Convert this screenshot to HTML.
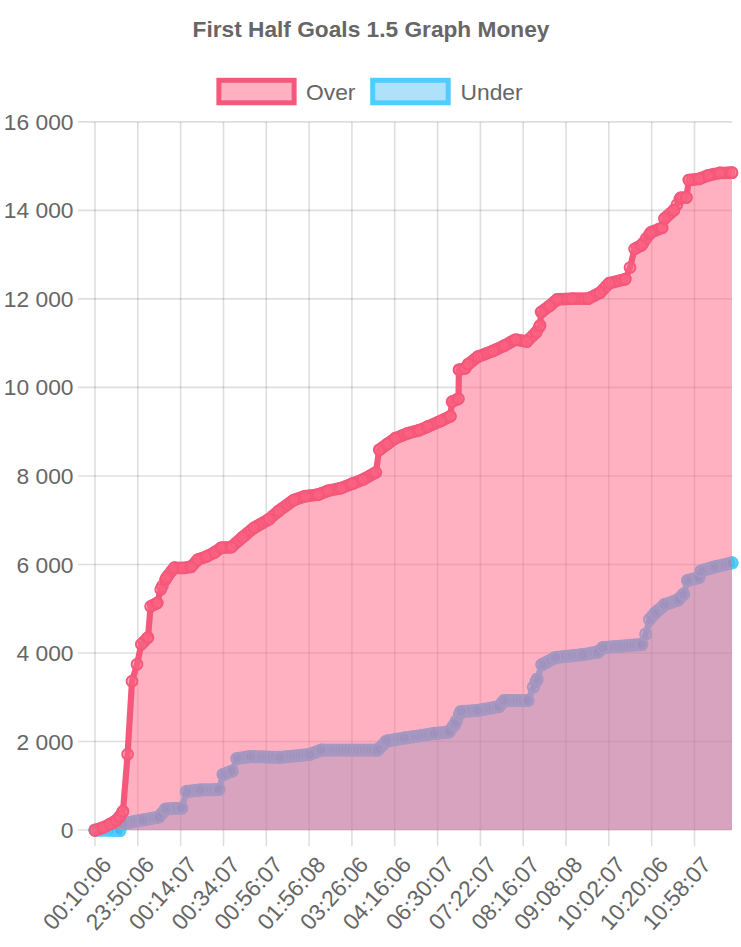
<!DOCTYPE html>
<html><head><meta charset="utf-8"><style>
html,body{margin:0;padding:0;background:#fff;width:741px;height:947px;overflow:hidden}
svg{display:block;font-family:"Liberation Sans",sans-serif}
</style></head><body>
<svg width="741" height="947" viewBox="0 0 741 947">
<g stroke="rgba(0,0,0,0.13)" stroke-width="1.6"><line x1="78" y1="121.9" x2="732.0" y2="121.9"/><line x1="78" y1="210.4" x2="732.0" y2="210.4"/><line x1="78" y1="298.9" x2="732.0" y2="298.9"/><line x1="78" y1="387.4" x2="732.0" y2="387.4"/><line x1="78" y1="476.0" x2="732.0" y2="476.0"/><line x1="78" y1="564.5" x2="732.0" y2="564.5"/><line x1="78" y1="653.0" x2="732.0" y2="653.0"/><line x1="78" y1="741.5" x2="732.0" y2="741.5"/><line x1="78" y1="830.0" x2="732.0" y2="830.0"/><line x1="95.0" y1="121.9" x2="95.0" y2="846"/><line x1="137.8" y1="121.9" x2="137.8" y2="846"/><line x1="180.6" y1="121.9" x2="180.6" y2="846"/><line x1="223.5" y1="121.9" x2="223.5" y2="846"/><line x1="266.3" y1="121.9" x2="266.3" y2="846"/><line x1="309.1" y1="121.9" x2="309.1" y2="846"/><line x1="351.9" y1="121.9" x2="351.9" y2="846"/><line x1="394.7" y1="121.9" x2="394.7" y2="846"/><line x1="437.6" y1="121.9" x2="437.6" y2="846"/><line x1="480.4" y1="121.9" x2="480.4" y2="846"/><line x1="523.2" y1="121.9" x2="523.2" y2="846"/><line x1="566.0" y1="121.9" x2="566.0" y2="846"/><line x1="608.8" y1="121.9" x2="608.8" y2="846"/><line x1="651.7" y1="121.9" x2="651.7" y2="846"/><line x1="694.5" y1="121.9" x2="694.5" y2="846"/></g>
<path d="M95.0,830.0 L120.0,830.5 L123.0,823.5 L142.8,820.0 L158.8,817.0 L165.7,809.0 L181.8,808.0 L186.4,791.5 L200.1,790.0 L219.0,789.5 L223.0,774.5 L232.2,771.0 L236.8,758.5 L250.6,756.5 L279.7,757.4 L309.4,754.5 L321.3,750.0 L377.7,750.0 L386.6,741.0 L404.4,738.0 L434.1,733.5 L448.9,732.0 L454.9,724.0 L460.8,711.5 L477.5,710.5 L499.0,706.5 L504.0,700.5 L528.0,700.5 L533.4,687.0 L537.2,679.0 L541.8,664.7 L555.5,657.5 L583.0,654.5 L598.0,652.0 L603.0,647.5 L641.9,644.5 L645.7,634.0 L649.5,619.5 L655.2,613.0 L664.7,604.5 L678.0,600.0 L683.7,594.0 L687.5,580.5 L699.0,577.5 L700.9,571.0 L714.2,567.0 L732.0,562.8 L732.0,830.0 L95.0,830.0 Z" fill="rgba(55,183,243,0.4)"/><path d="M95.0,830.0 L120.0,830.5 L123.0,823.5 L142.8,820.0 L158.8,817.0 L165.7,809.0 L181.8,808.0 L186.4,791.5 L200.1,790.0 L219.0,789.5 L223.0,774.5 L232.2,771.0 L236.8,758.5 L250.6,756.5 L279.7,757.4 L309.4,754.5 L321.3,750.0 L377.7,750.0 L386.6,741.0 L404.4,738.0 L434.1,733.5 L448.9,732.0 L454.9,724.0 L460.8,711.5 L477.5,710.5 L499.0,706.5 L504.0,700.5 L528.0,700.5 L533.4,687.0 L537.2,679.0 L541.8,664.7 L555.5,657.5 L583.0,654.5 L598.0,652.0 L603.0,647.5 L641.9,644.5 L645.7,634.0 L649.5,619.5 L655.2,613.0 L664.7,604.5 L678.0,600.0 L683.7,594.0 L687.5,580.5 L699.0,577.5 L700.9,571.0 L714.2,567.0 L732.0,562.8" fill="none" stroke="rgb(80,205,255)" stroke-width="6.2" stroke-linejoin="round"/><g fill="rgba(55,183,243,0.4)" stroke="rgb(80,205,255)" stroke-width="1.9"><circle cx="95.0" cy="830.0" r="5.6"/><circle cx="98.1" cy="830.1" r="5.6"/><circle cx="101.1" cy="830.1" r="5.6"/><circle cx="104.2" cy="830.2" r="5.6"/><circle cx="107.2" cy="830.2" r="5.6"/><circle cx="110.3" cy="830.3" r="5.6"/><circle cx="113.4" cy="830.4" r="5.6"/><circle cx="116.4" cy="830.4" r="5.6"/><circle cx="119.5" cy="830.5" r="5.6"/><circle cx="122.6" cy="824.5" r="5.6"/><circle cx="125.6" cy="823.0" r="5.6"/><circle cx="128.7" cy="822.5" r="5.6"/><circle cx="131.8" cy="822.0" r="5.6"/><circle cx="134.8" cy="821.4" r="5.6"/><circle cx="137.9" cy="820.9" r="5.6"/><circle cx="140.9" cy="820.3" r="5.6"/><circle cx="144.0" cy="819.8" r="5.6"/><circle cx="147.1" cy="819.2" r="5.6"/><circle cx="150.1" cy="818.6" r="5.6"/><circle cx="153.2" cy="818.1" r="5.6"/><circle cx="156.2" cy="817.5" r="5.6"/><circle cx="159.3" cy="816.4" r="5.6"/><circle cx="162.4" cy="812.9" r="5.6"/><circle cx="165.4" cy="809.3" r="5.6"/><circle cx="168.5" cy="808.8" r="5.6"/><circle cx="171.6" cy="808.6" r="5.6"/><circle cx="174.6" cy="808.4" r="5.6"/><circle cx="177.7" cy="808.3" r="5.6"/><circle cx="180.8" cy="808.1" r="5.6"/><circle cx="186.9" cy="791.4" r="5.6"/><circle cx="189.9" cy="791.1" r="5.6"/><circle cx="193.0" cy="790.8" r="5.6"/><circle cx="196.1" cy="790.4" r="5.6"/><circle cx="199.1" cy="790.1" r="5.6"/><circle cx="202.2" cy="789.9" r="5.6"/><circle cx="205.2" cy="789.9" r="5.6"/><circle cx="208.3" cy="789.8" r="5.6"/><circle cx="211.4" cy="789.7" r="5.6"/><circle cx="214.4" cy="789.6" r="5.6"/><circle cx="217.5" cy="789.5" r="5.6"/><circle cx="223.6" cy="774.3" r="5.6"/><circle cx="226.7" cy="773.1" r="5.6"/><circle cx="229.8" cy="771.9" r="5.6"/><circle cx="238.9" cy="758.2" r="5.6"/><circle cx="242.0" cy="757.7" r="5.6"/><circle cx="245.1" cy="757.3" r="5.6"/><circle cx="248.1" cy="756.9" r="5.6"/><circle cx="251.2" cy="756.5" r="5.6"/><circle cx="254.2" cy="756.6" r="5.6"/><circle cx="257.3" cy="756.7" r="5.6"/><circle cx="260.4" cy="756.8" r="5.6"/><circle cx="263.4" cy="756.9" r="5.6"/><circle cx="266.5" cy="757.0" r="5.6"/><circle cx="269.6" cy="757.1" r="5.6"/><circle cx="272.6" cy="757.2" r="5.6"/><circle cx="275.7" cy="757.3" r="5.6"/><circle cx="278.8" cy="757.4" r="5.6"/><circle cx="281.8" cy="757.2" r="5.6"/><circle cx="284.9" cy="756.9" r="5.6"/><circle cx="287.9" cy="756.6" r="5.6"/><circle cx="291.0" cy="756.3" r="5.6"/><circle cx="294.1" cy="756.0" r="5.6"/><circle cx="297.1" cy="755.7" r="5.6"/><circle cx="300.2" cy="755.4" r="5.6"/><circle cx="303.2" cy="755.1" r="5.6"/><circle cx="306.3" cy="754.8" r="5.6"/><circle cx="309.4" cy="754.5" r="5.6"/><circle cx="312.4" cy="753.4" r="5.6"/><circle cx="315.5" cy="752.2" r="5.6"/><circle cx="318.6" cy="751.0" r="5.6"/><circle cx="321.6" cy="750.0" r="5.6"/><circle cx="324.7" cy="750.0" r="5.6"/><circle cx="327.8" cy="750.0" r="5.6"/><circle cx="330.8" cy="750.0" r="5.6"/><circle cx="333.9" cy="750.0" r="5.6"/><circle cx="336.9" cy="750.0" r="5.6"/><circle cx="340.0" cy="750.0" r="5.6"/><circle cx="343.1" cy="750.0" r="5.6"/><circle cx="346.1" cy="750.0" r="5.6"/><circle cx="349.2" cy="750.0" r="5.6"/><circle cx="352.2" cy="750.0" r="5.6"/><circle cx="355.3" cy="750.0" r="5.6"/><circle cx="358.4" cy="750.0" r="5.6"/><circle cx="361.4" cy="750.0" r="5.6"/><circle cx="364.5" cy="750.0" r="5.6"/><circle cx="367.6" cy="750.0" r="5.6"/><circle cx="370.6" cy="750.0" r="5.6"/><circle cx="373.7" cy="750.0" r="5.6"/><circle cx="376.8" cy="750.0" r="5.6"/><circle cx="379.8" cy="747.9" r="5.6"/><circle cx="382.9" cy="744.8" r="5.6"/><circle cx="385.9" cy="741.7" r="5.6"/><circle cx="389.0" cy="740.6" r="5.6"/><circle cx="392.1" cy="740.1" r="5.6"/><circle cx="395.1" cy="739.6" r="5.6"/><circle cx="398.2" cy="739.0" r="5.6"/><circle cx="401.2" cy="738.5" r="5.6"/><circle cx="404.3" cy="738.0" r="5.6"/><circle cx="407.4" cy="737.5" r="5.6"/><circle cx="410.4" cy="737.1" r="5.6"/><circle cx="413.5" cy="736.6" r="5.6"/><circle cx="416.6" cy="736.2" r="5.6"/><circle cx="419.6" cy="735.7" r="5.6"/><circle cx="422.7" cy="735.2" r="5.6"/><circle cx="425.8" cy="734.8" r="5.6"/><circle cx="428.8" cy="734.3" r="5.6"/><circle cx="431.9" cy="733.8" r="5.6"/><circle cx="434.9" cy="733.4" r="5.6"/><circle cx="438.0" cy="733.1" r="5.6"/><circle cx="441.1" cy="732.8" r="5.6"/><circle cx="444.1" cy="732.5" r="5.6"/><circle cx="447.2" cy="732.2" r="5.6"/><circle cx="450.2" cy="730.2" r="5.6"/><circle cx="453.3" cy="726.1" r="5.6"/><circle cx="456.4" cy="720.9" r="5.6"/><circle cx="459.4" cy="714.4" r="5.6"/><circle cx="462.5" cy="711.4" r="5.6"/><circle cx="465.6" cy="711.2" r="5.6"/><circle cx="468.6" cy="711.0" r="5.6"/><circle cx="471.7" cy="710.8" r="5.6"/><circle cx="474.8" cy="710.7" r="5.6"/><circle cx="477.8" cy="710.4" r="5.6"/><circle cx="480.9" cy="709.9" r="5.6"/><circle cx="483.9" cy="709.3" r="5.6"/><circle cx="487.0" cy="708.7" r="5.6"/><circle cx="490.1" cy="708.2" r="5.6"/><circle cx="493.1" cy="707.6" r="5.6"/><circle cx="496.2" cy="707.0" r="5.6"/><circle cx="499.2" cy="706.2" r="5.6"/><circle cx="502.3" cy="702.5" r="5.6"/><circle cx="505.4" cy="700.5" r="5.6"/><circle cx="508.4" cy="700.5" r="5.6"/><circle cx="511.5" cy="700.5" r="5.6"/><circle cx="514.6" cy="700.5" r="5.6"/><circle cx="517.6" cy="700.5" r="5.6"/><circle cx="520.7" cy="700.5" r="5.6"/><circle cx="523.8" cy="700.5" r="5.6"/><circle cx="526.8" cy="700.5" r="5.6"/><circle cx="536.0" cy="681.5" r="5.6"/><circle cx="542.1" cy="664.5" r="5.6"/><circle cx="545.2" cy="662.9" r="5.6"/><circle cx="548.2" cy="661.3" r="5.6"/><circle cx="551.3" cy="659.7" r="5.6"/><circle cx="554.4" cy="658.1" r="5.6"/><circle cx="557.4" cy="657.3" r="5.6"/><circle cx="560.5" cy="657.0" r="5.6"/><circle cx="563.6" cy="656.6" r="5.6"/><circle cx="566.6" cy="656.3" r="5.6"/><circle cx="569.7" cy="656.0" r="5.6"/><circle cx="572.8" cy="655.6" r="5.6"/><circle cx="575.8" cy="655.3" r="5.6"/><circle cx="578.9" cy="655.0" r="5.6"/><circle cx="581.9" cy="654.6" r="5.6"/><circle cx="585.0" cy="654.2" r="5.6"/><circle cx="588.1" cy="653.7" r="5.6"/><circle cx="591.1" cy="653.1" r="5.6"/><circle cx="594.2" cy="652.6" r="5.6"/><circle cx="597.2" cy="652.1" r="5.6"/><circle cx="600.3" cy="649.9" r="5.6"/><circle cx="603.4" cy="647.5" r="5.6"/><circle cx="606.4" cy="647.2" r="5.6"/><circle cx="609.5" cy="647.0" r="5.6"/><circle cx="612.6" cy="646.8" r="5.6"/><circle cx="615.6" cy="646.5" r="5.6"/><circle cx="618.7" cy="646.3" r="5.6"/><circle cx="621.8" cy="646.1" r="5.6"/><circle cx="624.8" cy="645.8" r="5.6"/><circle cx="627.9" cy="645.6" r="5.6"/><circle cx="630.9" cy="645.3" r="5.6"/><circle cx="634.0" cy="645.1" r="5.6"/><circle cx="637.1" cy="644.9" r="5.6"/><circle cx="640.1" cy="644.6" r="5.6"/><circle cx="652.4" cy="616.2" r="5.6"/><circle cx="655.4" cy="612.8" r="5.6"/><circle cx="658.5" cy="610.0" r="5.6"/><circle cx="661.6" cy="607.3" r="5.6"/><circle cx="664.6" cy="604.6" r="5.6"/><circle cx="667.7" cy="603.5" r="5.6"/><circle cx="670.8" cy="602.5" r="5.6"/><circle cx="673.8" cy="601.4" r="5.6"/><circle cx="676.9" cy="600.4" r="5.6"/><circle cx="679.9" cy="598.0" r="5.6"/><circle cx="683.0" cy="594.7" r="5.6"/><circle cx="689.1" cy="580.1" r="5.6"/><circle cx="692.2" cy="579.3" r="5.6"/><circle cx="695.2" cy="578.5" r="5.6"/><circle cx="698.3" cy="577.7" r="5.6"/><circle cx="701.4" cy="570.9" r="5.6"/><circle cx="704.4" cy="569.9" r="5.6"/><circle cx="707.5" cy="569.0" r="5.6"/><circle cx="710.6" cy="568.1" r="5.6"/><circle cx="713.6" cy="567.2" r="5.6"/><circle cx="716.7" cy="566.4" r="5.6"/><circle cx="719.8" cy="565.7" r="5.6"/><circle cx="722.8" cy="565.0" r="5.6"/><circle cx="725.9" cy="564.2" r="5.6"/><circle cx="728.9" cy="563.5" r="5.6"/><circle cx="732.0" cy="562.8" r="5.6"/><circle cx="95.0" cy="830.0" r="5.6"/><circle cx="120.0" cy="830.5" r="5.6"/><circle cx="123.0" cy="823.5" r="5.6"/><circle cx="142.8" cy="820.0" r="5.6"/><circle cx="158.8" cy="817.0" r="5.6"/><circle cx="165.7" cy="809.0" r="5.6"/><circle cx="181.8" cy="808.0" r="5.6"/><circle cx="186.4" cy="791.5" r="5.6"/><circle cx="200.1" cy="790.0" r="5.6"/><circle cx="219.0" cy="789.5" r="5.6"/><circle cx="223.0" cy="774.5" r="5.6"/><circle cx="232.2" cy="771.0" r="5.6"/><circle cx="236.8" cy="758.5" r="5.6"/><circle cx="250.6" cy="756.5" r="5.6"/><circle cx="279.7" cy="757.4" r="5.6"/><circle cx="309.4" cy="754.5" r="5.6"/><circle cx="321.3" cy="750.0" r="5.6"/><circle cx="377.7" cy="750.0" r="5.6"/><circle cx="386.6" cy="741.0" r="5.6"/><circle cx="404.4" cy="738.0" r="5.6"/><circle cx="434.1" cy="733.5" r="5.6"/><circle cx="448.9" cy="732.0" r="5.6"/><circle cx="454.9" cy="724.0" r="5.6"/><circle cx="460.8" cy="711.5" r="5.6"/><circle cx="477.5" cy="710.5" r="5.6"/><circle cx="499.0" cy="706.5" r="5.6"/><circle cx="504.0" cy="700.5" r="5.6"/><circle cx="528.0" cy="700.5" r="5.6"/><circle cx="533.4" cy="687.0" r="5.6"/><circle cx="537.2" cy="679.0" r="5.6"/><circle cx="541.8" cy="664.7" r="5.6"/><circle cx="555.5" cy="657.5" r="5.6"/><circle cx="583.0" cy="654.5" r="5.6"/><circle cx="598.0" cy="652.0" r="5.6"/><circle cx="603.0" cy="647.5" r="5.6"/><circle cx="641.9" cy="644.5" r="5.6"/><circle cx="645.7" cy="634.0" r="5.6"/><circle cx="649.5" cy="619.5" r="5.6"/><circle cx="655.2" cy="613.0" r="5.6"/><circle cx="664.7" cy="604.5" r="5.6"/><circle cx="678.0" cy="600.0" r="5.6"/><circle cx="683.7" cy="594.0" r="5.6"/><circle cx="687.5" cy="580.5" r="5.6"/><circle cx="699.0" cy="577.5" r="5.6"/><circle cx="700.9" cy="571.0" r="5.6"/><circle cx="714.2" cy="567.0" r="5.6"/><circle cx="732.0" cy="562.8" r="5.6"/></g>
<path d="M95.0,830.3 L103.0,827.6 L110.0,824.1 L116.0,820.6 L120.0,816.2 L123.0,811.2 L127.6,754.2 L132.0,681.2 L137.0,664.3 L141.3,644.3 L148.0,637.4 L150.6,606.4 L157.3,602.9 L160.7,589.4 L166.6,577.5 L174.2,567.7 L182.7,568.0 L191.1,566.9 L197.9,559.5 L206.3,556.6 L214.8,552.2 L221.5,547.6 L231.3,547.2 L242.7,537.1 L254.0,527.8 L269.1,519.2 L278.6,511.0 L293.7,500.0 L305.0,496.2 L318.2,494.6 L327.7,490.8 L340.9,488.1 L352.3,483.7 L363.0,479.5 L375.9,472.4 L379.2,449.8 L387.2,444.1 L395.3,438.2 L408.3,433.1 L419.6,430.1 L427.7,426.6 L440.7,420.9 L450.4,416.2 L452.0,401.7 L458.5,398.7 L458.9,369.8 L465.0,368.5 L468.3,364.1 L477.8,356.7 L492.9,350.9 L504.2,345.7 L515.6,339.5 L526.9,341.5 L536.4,332.0 L540.1,325.3 L541.1,312.1 L549.6,305.8 L557.1,299.4 L572.2,298.6 L588.5,298.6 L600.0,292.7 L609.2,283.2 L625.4,279.1 L630.0,267.5 L634.6,248.9 L641.5,245.2 L650.8,232.4 L662.3,227.7 L664.6,218.4 L673.9,210.2 L680.8,197.5 L686.5,197.5 L688.8,180.1 L699.2,178.9 L708.5,175.3 L720.0,172.8 L732.0,172.7 L732.0,830.0 L95.0,830.0 Z" fill="rgba(255,99,132,0.5)"/><path d="M95.0,830.3 L103.0,827.6 L110.0,824.1 L116.0,820.6 L120.0,816.2 L123.0,811.2 L127.6,754.2 L132.0,681.2 L137.0,664.3 L141.3,644.3 L148.0,637.4 L150.6,606.4 L157.3,602.9 L160.7,589.4 L166.6,577.5 L174.2,567.7 L182.7,568.0 L191.1,566.9 L197.9,559.5 L206.3,556.6 L214.8,552.2 L221.5,547.6 L231.3,547.2 L242.7,537.1 L254.0,527.8 L269.1,519.2 L278.6,511.0 L293.7,500.0 L305.0,496.2 L318.2,494.6 L327.7,490.8 L340.9,488.1 L352.3,483.7 L363.0,479.5 L375.9,472.4 L379.2,449.8 L387.2,444.1 L395.3,438.2 L408.3,433.1 L419.6,430.1 L427.7,426.6 L440.7,420.9 L450.4,416.2 L452.0,401.7 L458.5,398.7 L458.9,369.8 L465.0,368.5 L468.3,364.1 L477.8,356.7 L492.9,350.9 L504.2,345.7 L515.6,339.5 L526.9,341.5 L536.4,332.0 L540.1,325.3 L541.1,312.1 L549.6,305.8 L557.1,299.4 L572.2,298.6 L588.5,298.6 L600.0,292.7 L609.2,283.2 L625.4,279.1 L630.0,267.5 L634.6,248.9 L641.5,245.2 L650.8,232.4 L662.3,227.7 L664.6,218.4 L673.9,210.2 L680.8,197.5 L686.5,197.5 L688.8,180.1 L699.2,178.9 L708.5,175.3 L720.0,172.8 L732.0,172.7" fill="none" stroke="rgb(244,88,122)" stroke-width="6.2" stroke-linejoin="round"/><g fill="rgba(255,99,132,0.5)" stroke="rgb(244,88,122)" stroke-width="1.9"><circle cx="95.0" cy="830.3" r="5.4"/><circle cx="98.1" cy="829.2" r="5.4"/><circle cx="101.1" cy="828.2" r="5.4"/><circle cx="104.2" cy="827.0" r="5.4"/><circle cx="107.2" cy="825.5" r="5.4"/><circle cx="110.3" cy="823.9" r="5.4"/><circle cx="113.4" cy="822.2" r="5.4"/><circle cx="116.4" cy="820.2" r="5.4"/><circle cx="119.5" cy="816.7" r="5.4"/><circle cx="122.6" cy="811.9" r="5.4"/><circle cx="144.0" cy="641.5" r="5.4"/><circle cx="147.1" cy="638.3" r="5.4"/><circle cx="153.2" cy="605.0" r="5.4"/><circle cx="156.2" cy="603.5" r="5.4"/><circle cx="162.4" cy="586.0" r="5.4"/><circle cx="165.4" cy="579.8" r="5.4"/><circle cx="168.5" cy="575.0" r="5.4"/><circle cx="171.6" cy="571.1" r="5.4"/><circle cx="174.6" cy="567.7" r="5.4"/><circle cx="177.7" cy="567.8" r="5.4"/><circle cx="180.8" cy="567.9" r="5.4"/><circle cx="183.8" cy="567.9" r="5.4"/><circle cx="186.9" cy="567.4" r="5.4"/><circle cx="189.9" cy="567.0" r="5.4"/><circle cx="193.0" cy="564.8" r="5.4"/><circle cx="196.1" cy="561.5" r="5.4"/><circle cx="199.1" cy="559.1" r="5.4"/><circle cx="202.2" cy="558.0" r="5.4"/><circle cx="205.2" cy="557.0" r="5.4"/><circle cx="208.3" cy="555.6" r="5.4"/><circle cx="211.4" cy="554.0" r="5.4"/><circle cx="214.4" cy="552.4" r="5.4"/><circle cx="217.5" cy="550.3" r="5.4"/><circle cx="220.6" cy="548.2" r="5.4"/><circle cx="223.6" cy="547.5" r="5.4"/><circle cx="226.7" cy="547.4" r="5.4"/><circle cx="229.8" cy="547.2" r="5.4"/><circle cx="232.8" cy="545.8" r="5.4"/><circle cx="235.9" cy="543.1" r="5.4"/><circle cx="238.9" cy="540.4" r="5.4"/><circle cx="242.0" cy="537.7" r="5.4"/><circle cx="245.1" cy="535.2" r="5.4"/><circle cx="248.1" cy="532.6" r="5.4"/><circle cx="251.2" cy="530.1" r="5.4"/><circle cx="254.2" cy="527.7" r="5.4"/><circle cx="257.3" cy="525.9" r="5.4"/><circle cx="260.4" cy="524.2" r="5.4"/><circle cx="263.4" cy="522.4" r="5.4"/><circle cx="266.5" cy="520.7" r="5.4"/><circle cx="269.6" cy="518.8" r="5.4"/><circle cx="272.6" cy="516.1" r="5.4"/><circle cx="275.7" cy="513.5" r="5.4"/><circle cx="278.8" cy="510.9" r="5.4"/><circle cx="281.8" cy="508.6" r="5.4"/><circle cx="284.9" cy="506.4" r="5.4"/><circle cx="287.9" cy="504.2" r="5.4"/><circle cx="291.0" cy="501.9" r="5.4"/><circle cx="294.1" cy="499.9" r="5.4"/><circle cx="297.1" cy="498.8" r="5.4"/><circle cx="300.2" cy="497.8" r="5.4"/><circle cx="303.2" cy="496.8" r="5.4"/><circle cx="306.3" cy="496.1" r="5.4"/><circle cx="309.4" cy="495.7" r="5.4"/><circle cx="312.4" cy="495.3" r="5.4"/><circle cx="315.5" cy="494.9" r="5.4"/><circle cx="318.6" cy="494.4" r="5.4"/><circle cx="321.6" cy="493.2" r="5.4"/><circle cx="324.7" cy="492.0" r="5.4"/><circle cx="327.8" cy="490.8" r="5.4"/><circle cx="330.8" cy="490.1" r="5.4"/><circle cx="333.9" cy="489.5" r="5.4"/><circle cx="336.9" cy="488.9" r="5.4"/><circle cx="340.0" cy="488.3" r="5.4"/><circle cx="343.1" cy="487.3" r="5.4"/><circle cx="346.1" cy="486.1" r="5.4"/><circle cx="349.2" cy="484.9" r="5.4"/><circle cx="352.2" cy="483.7" r="5.4"/><circle cx="355.3" cy="482.5" r="5.4"/><circle cx="358.4" cy="481.3" r="5.4"/><circle cx="361.4" cy="480.1" r="5.4"/><circle cx="364.5" cy="478.7" r="5.4"/><circle cx="367.6" cy="477.0" r="5.4"/><circle cx="370.6" cy="475.3" r="5.4"/><circle cx="373.7" cy="473.6" r="5.4"/><circle cx="379.8" cy="449.4" r="5.4"/><circle cx="382.9" cy="447.2" r="5.4"/><circle cx="385.9" cy="445.0" r="5.4"/><circle cx="389.0" cy="442.8" r="5.4"/><circle cx="392.1" cy="440.6" r="5.4"/><circle cx="395.1" cy="438.4" r="5.4"/><circle cx="398.2" cy="437.1" r="5.4"/><circle cx="401.2" cy="435.9" r="5.4"/><circle cx="404.3" cy="434.6" r="5.4"/><circle cx="407.4" cy="433.4" r="5.4"/><circle cx="410.4" cy="432.5" r="5.4"/><circle cx="413.5" cy="431.7" r="5.4"/><circle cx="416.6" cy="430.9" r="5.4"/><circle cx="419.6" cy="430.1" r="5.4"/><circle cx="422.7" cy="428.8" r="5.4"/><circle cx="425.8" cy="427.5" r="5.4"/><circle cx="428.8" cy="426.1" r="5.4"/><circle cx="431.9" cy="424.8" r="5.4"/><circle cx="434.9" cy="423.5" r="5.4"/><circle cx="438.0" cy="422.1" r="5.4"/><circle cx="441.1" cy="420.8" r="5.4"/><circle cx="444.1" cy="419.3" r="5.4"/><circle cx="447.2" cy="417.8" r="5.4"/><circle cx="450.2" cy="416.3" r="5.4"/><circle cx="453.3" cy="401.1" r="5.4"/><circle cx="456.4" cy="399.7" r="5.4"/><circle cx="459.4" cy="369.6" r="5.4"/><circle cx="462.5" cy="369.0" r="5.4"/><circle cx="465.6" cy="367.8" r="5.4"/><circle cx="468.6" cy="363.8" r="5.4"/><circle cx="471.7" cy="361.5" r="5.4"/><circle cx="474.8" cy="359.1" r="5.4"/><circle cx="477.8" cy="356.7" r="5.4"/><circle cx="480.9" cy="355.6" r="5.4"/><circle cx="483.9" cy="354.4" r="5.4"/><circle cx="487.0" cy="353.2" r="5.4"/><circle cx="490.1" cy="352.0" r="5.4"/><circle cx="493.1" cy="350.8" r="5.4"/><circle cx="496.2" cy="349.4" r="5.4"/><circle cx="499.2" cy="348.0" r="5.4"/><circle cx="502.3" cy="346.6" r="5.4"/><circle cx="505.4" cy="345.1" r="5.4"/><circle cx="508.4" cy="343.4" r="5.4"/><circle cx="511.5" cy="341.7" r="5.4"/><circle cx="514.6" cy="340.0" r="5.4"/><circle cx="517.6" cy="339.8" r="5.4"/><circle cx="520.7" cy="340.4" r="5.4"/><circle cx="523.8" cy="340.9" r="5.4"/><circle cx="526.8" cy="341.5" r="5.4"/><circle cx="529.9" cy="338.5" r="5.4"/><circle cx="532.9" cy="335.5" r="5.4"/><circle cx="536.0" cy="332.4" r="5.4"/><circle cx="539.1" cy="327.2" r="5.4"/><circle cx="542.1" cy="311.4" r="5.4"/><circle cx="545.2" cy="309.1" r="5.4"/><circle cx="548.2" cy="306.8" r="5.4"/><circle cx="551.3" cy="304.4" r="5.4"/><circle cx="554.4" cy="301.7" r="5.4"/><circle cx="557.4" cy="299.4" r="5.4"/><circle cx="560.5" cy="299.2" r="5.4"/><circle cx="563.6" cy="299.1" r="5.4"/><circle cx="566.6" cy="298.9" r="5.4"/><circle cx="569.7" cy="298.8" r="5.4"/><circle cx="572.8" cy="298.6" r="5.4"/><circle cx="575.8" cy="298.6" r="5.4"/><circle cx="578.9" cy="298.6" r="5.4"/><circle cx="581.9" cy="298.6" r="5.4"/><circle cx="585.0" cy="298.6" r="5.4"/><circle cx="588.1" cy="298.6" r="5.4"/><circle cx="591.1" cy="297.2" r="5.4"/><circle cx="594.2" cy="295.7" r="5.4"/><circle cx="597.2" cy="294.1" r="5.4"/><circle cx="600.3" cy="292.4" r="5.4"/><circle cx="603.4" cy="289.2" r="5.4"/><circle cx="606.4" cy="286.0" r="5.4"/><circle cx="609.5" cy="283.1" r="5.4"/><circle cx="612.6" cy="282.3" r="5.4"/><circle cx="615.6" cy="281.6" r="5.4"/><circle cx="618.7" cy="280.8" r="5.4"/><circle cx="621.8" cy="280.0" r="5.4"/><circle cx="624.8" cy="279.3" r="5.4"/><circle cx="637.1" cy="247.5" r="5.4"/><circle cx="640.1" cy="245.9" r="5.4"/><circle cx="643.2" cy="242.9" r="5.4"/><circle cx="646.2" cy="238.6" r="5.4"/><circle cx="649.3" cy="234.4" r="5.4"/><circle cx="652.4" cy="231.7" r="5.4"/><circle cx="655.4" cy="230.5" r="5.4"/><circle cx="658.5" cy="229.2" r="5.4"/><circle cx="661.6" cy="228.0" r="5.4"/><circle cx="664.6" cy="218.4" r="5.4"/><circle cx="667.7" cy="215.7" r="5.4"/><circle cx="670.8" cy="213.0" r="5.4"/><circle cx="673.8" cy="210.3" r="5.4"/><circle cx="676.9" cy="204.7" r="5.4"/><circle cx="679.9" cy="199.1" r="5.4"/><circle cx="683.0" cy="197.5" r="5.4"/><circle cx="686.1" cy="197.5" r="5.4"/><circle cx="689.1" cy="180.0" r="5.4"/><circle cx="692.2" cy="179.7" r="5.4"/><circle cx="695.2" cy="179.3" r="5.4"/><circle cx="698.3" cy="179.0" r="5.4"/><circle cx="701.4" cy="178.0" r="5.4"/><circle cx="704.4" cy="176.8" r="5.4"/><circle cx="707.5" cy="175.6" r="5.4"/><circle cx="710.6" cy="174.8" r="5.4"/><circle cx="713.6" cy="174.2" r="5.4"/><circle cx="716.7" cy="173.5" r="5.4"/><circle cx="719.8" cy="172.9" r="5.4"/><circle cx="722.8" cy="172.8" r="5.4"/><circle cx="725.9" cy="172.8" r="5.4"/><circle cx="728.9" cy="172.7" r="5.4"/><circle cx="732.0" cy="172.7" r="5.4"/><circle cx="95.0" cy="830.3" r="5.4"/><circle cx="103.0" cy="827.6" r="5.4"/><circle cx="110.0" cy="824.1" r="5.4"/><circle cx="116.0" cy="820.6" r="5.4"/><circle cx="120.0" cy="816.2" r="5.4"/><circle cx="123.0" cy="811.2" r="5.4"/><circle cx="127.6" cy="754.2" r="5.4"/><circle cx="132.0" cy="681.2" r="5.4"/><circle cx="137.0" cy="664.3" r="5.4"/><circle cx="141.3" cy="644.3" r="5.4"/><circle cx="148.0" cy="637.4" r="5.4"/><circle cx="150.6" cy="606.4" r="5.4"/><circle cx="157.3" cy="602.9" r="5.4"/><circle cx="160.7" cy="589.4" r="5.4"/><circle cx="166.6" cy="577.5" r="5.4"/><circle cx="174.2" cy="567.7" r="5.4"/><circle cx="182.7" cy="568.0" r="5.4"/><circle cx="191.1" cy="566.9" r="5.4"/><circle cx="197.9" cy="559.5" r="5.4"/><circle cx="206.3" cy="556.6" r="5.4"/><circle cx="214.8" cy="552.2" r="5.4"/><circle cx="221.5" cy="547.6" r="5.4"/><circle cx="231.3" cy="547.2" r="5.4"/><circle cx="242.7" cy="537.1" r="5.4"/><circle cx="254.0" cy="527.8" r="5.4"/><circle cx="269.1" cy="519.2" r="5.4"/><circle cx="278.6" cy="511.0" r="5.4"/><circle cx="293.7" cy="500.0" r="5.4"/><circle cx="305.0" cy="496.2" r="5.4"/><circle cx="318.2" cy="494.6" r="5.4"/><circle cx="327.7" cy="490.8" r="5.4"/><circle cx="340.9" cy="488.1" r="5.4"/><circle cx="352.3" cy="483.7" r="5.4"/><circle cx="363.0" cy="479.5" r="5.4"/><circle cx="375.9" cy="472.4" r="5.4"/><circle cx="379.2" cy="449.8" r="5.4"/><circle cx="387.2" cy="444.1" r="5.4"/><circle cx="395.3" cy="438.2" r="5.4"/><circle cx="408.3" cy="433.1" r="5.4"/><circle cx="419.6" cy="430.1" r="5.4"/><circle cx="427.7" cy="426.6" r="5.4"/><circle cx="440.7" cy="420.9" r="5.4"/><circle cx="450.4" cy="416.2" r="5.4"/><circle cx="452.0" cy="401.7" r="5.4"/><circle cx="458.5" cy="398.7" r="5.4"/><circle cx="458.9" cy="369.8" r="5.4"/><circle cx="465.0" cy="368.5" r="5.4"/><circle cx="468.3" cy="364.1" r="5.4"/><circle cx="477.8" cy="356.7" r="5.4"/><circle cx="492.9" cy="350.9" r="5.4"/><circle cx="504.2" cy="345.7" r="5.4"/><circle cx="515.6" cy="339.5" r="5.4"/><circle cx="526.9" cy="341.5" r="5.4"/><circle cx="536.4" cy="332.0" r="5.4"/><circle cx="540.1" cy="325.3" r="5.4"/><circle cx="541.1" cy="312.1" r="5.4"/><circle cx="549.6" cy="305.8" r="5.4"/><circle cx="557.1" cy="299.4" r="5.4"/><circle cx="572.2" cy="298.6" r="5.4"/><circle cx="588.5" cy="298.6" r="5.4"/><circle cx="600.0" cy="292.7" r="5.4"/><circle cx="609.2" cy="283.2" r="5.4"/><circle cx="625.4" cy="279.1" r="5.4"/><circle cx="630.0" cy="267.5" r="5.4"/><circle cx="634.6" cy="248.9" r="5.4"/><circle cx="641.5" cy="245.2" r="5.4"/><circle cx="650.8" cy="232.4" r="5.4"/><circle cx="662.3" cy="227.7" r="5.4"/><circle cx="664.6" cy="218.4" r="5.4"/><circle cx="673.9" cy="210.2" r="5.4"/><circle cx="680.8" cy="197.5" r="5.4"/><circle cx="686.5" cy="197.5" r="5.4"/><circle cx="688.8" cy="180.1" r="5.4"/><circle cx="699.2" cy="178.9" r="5.4"/><circle cx="708.5" cy="175.3" r="5.4"/><circle cx="720.0" cy="172.8" r="5.4"/><circle cx="732.0" cy="172.7" r="5.4"/></g>
<g font-family="Liberation Sans, sans-serif" font-size="22.8" fill="#666"><text x="73.5" y="129.9" text-anchor="end">16 000</text><text x="73.5" y="218.4" text-anchor="end">14 000</text><text x="73.5" y="306.9" text-anchor="end">12 000</text><text x="73.5" y="395.4" text-anchor="end">10 000</text><text x="73.5" y="484.0" text-anchor="end">8 000</text><text x="73.5" y="572.5" text-anchor="end">6 000</text><text x="73.5" y="661.0" text-anchor="end">4 000</text><text x="73.5" y="749.5" text-anchor="end">2 000</text><text x="73.5" y="838.0" text-anchor="end">0</text></g>
<g font-family="Liberation Sans, sans-serif" font-size="22.8" fill="#666"><text transform="translate(112.7,865.6) rotate(-48)" text-anchor="end">00:10:06</text><text transform="translate(155.5,865.6) rotate(-48)" text-anchor="end">23:50:06</text><text transform="translate(198.3,865.6) rotate(-48)" text-anchor="end">00:14:07</text><text transform="translate(241.2,865.6) rotate(-48)" text-anchor="end">00:34:07</text><text transform="translate(284.0,865.6) rotate(-48)" text-anchor="end">00:56:07</text><text transform="translate(326.8,865.6) rotate(-48)" text-anchor="end">01:56:08</text><text transform="translate(369.6,865.6) rotate(-48)" text-anchor="end">03:26:06</text><text transform="translate(412.4,865.6) rotate(-48)" text-anchor="end">04:16:06</text><text transform="translate(455.3,865.6) rotate(-48)" text-anchor="end">06:30:07</text><text transform="translate(498.1,865.6) rotate(-48)" text-anchor="end">07:22:07</text><text transform="translate(540.9,865.6) rotate(-48)" text-anchor="end">08:16:07</text><text transform="translate(583.7,865.6) rotate(-48)" text-anchor="end">09:08:08</text><text transform="translate(626.5,865.6) rotate(-48)" text-anchor="end">10:02:07</text><text transform="translate(669.4,865.6) rotate(-48)" text-anchor="end">10:20:06</text><text transform="translate(712.2,865.6) rotate(-48)" text-anchor="end">10:58:07</text></g>
<text x="371" y="36.6" text-anchor="middle" font-family="Liberation Sans, sans-serif" font-weight="bold" font-size="22.7" fill="#666">First Half Goals 1.5 Graph Money</text>
<rect x="218.9" y="80.3" width="75.2" height="22.5" fill="rgba(255,99,132,0.5)" stroke="rgb(244,88,122)" stroke-width="5"/>
<text x="306" y="99.5" font-family="Liberation Sans, sans-serif" font-size="22.8" fill="#666">Over</text>
<rect x="372.7" y="80.3" width="75.5" height="22.5" fill="rgba(55,183,243,0.4)" stroke="rgb(80,205,255)" stroke-width="5"/>
<text x="460.5" y="99.5" font-family="Liberation Sans, sans-serif" font-size="22.8" fill="#666">Under</text>
</svg>
</body></html>
